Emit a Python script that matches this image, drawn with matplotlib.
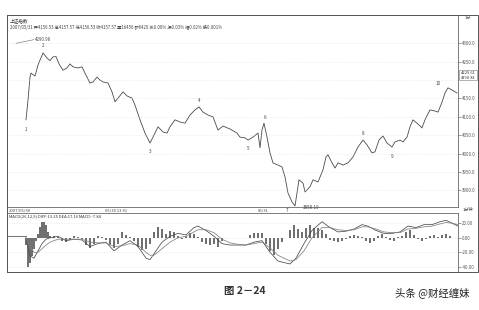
import matplotlib.pyplot as plt
from matplotlib.patches import Rectangle

plt.rcParams['font.family'] = ['Noto Sans CJK SC', 'DejaVu Sans']

minutes = [0, 2, 4, 5, 9, 12, 17, 21, 24, 27, 30, 33, 37, 41, 44, 47, 52, 56, 59, 64, 67, 71, 74,
           77, 82, 86, 89, 92, 97, 101, 106, 109, 114, 119, 124, 127, 132, 137, 141, 144, 149,
           154, 159, 164, 169, 173, 177, 182, 187, 192, 197, 204, 211, 214, 219, 222, 227, 232,
           234, 236, 238, 241, 244, 247, 252, 256, 259, 262, 266, 269, 271, 273, 277, 279, 284,
           287, 292, 297, 300, 302, 306, 309, 312, 317, 322, 327, 332, 337, 341, 346, 349, 353,
           357, 361, 366, 369, 374, 377, 381, 384, 387, 391, 396, 399, 404, 409, 412, 416, 419,
           422, 426, 431]
close = [4092, 4146, 4208, 4219, 4211, 4241, 4274, 4260, 4253, 4263, 4264, 4244, 4227, 4233,
         4244, 4236, 4233, 4236, 4219, 4192, 4195, 4208, 4200, 4195, 4192, 4168, 4141, 4151,
         4168, 4157, 4151, 4132, 4092, 4056, 4029, 4045, 4073, 4059, 4056, 4073, 4092, 4086,
         4083, 4105, 4119, 4127, 4113, 4105, 4100, 4064, 4075, 4067, 4056, 4045, 4043, 4037,
         4045, 4056, 4016, 4064, 4083, 4045, 4002, 3975, 3969, 3964, 3937, 3893, 3869, 3858,
         3893, 3929, 3920, 3896, 3910, 3929, 3923, 3956, 3991, 3997, 3975, 3961, 3975, 3969,
         3975, 3991, 4018, 4037, 4024, 4002, 4005, 4037, 4048, 4029, 4018, 4032, 4037, 4032,
         4045, 4073, 4092, 4083, 4070, 4092, 4119, 4116, 4113, 4140, 4165, 4179, 4173, 4165]

# wave labels: text, index in the series, offset in points
wave_labels = ['1', '2', '3', '4', '5', '6', '7', '8', '9', '10']
wave_index = [0, 6, 34, 45, 55, 60, 69, 87, 94, 109]
wave_dy = [-7, 5, -6, 5, -6, 4, -3, 5, -7, 3]
wave_dx = [0, 0, 0, 0, 0, 1, -6, 0, 0, -7]

# MACD panel
hist_min = list(range(0, 24, 2)) + list(range(24, 428, 4))
hist = [-10, -40, -35, -25, -15, -5, 5, 15, 21, 22, 18, 8, 3, 2, 1, -5, -6, -3, 2, 1, -2, -10,
        -14, -8, 2, 1, -3, -10, -14, -8, 8, 4, 1, -5, -12, -17, -15, -8, 8, 15, 12, 5, 9, 8, 3,
        -2, 3, 6, 5, 1, -6, -8, -10, -9, -12, -4, -1, 0, 0, 0, 0, 0, 4, 7, 6, 6, -8, -18, -24,
        -15, -6, 0, 10, 18, 12, 8, 14, 18, 13, 14, 10, 5, -3, -5, -6, -4, -2, 3, 4, 2, 1, -4,
        -7, -5, 3, 5, 1, -3, -5, 1, 2, 8, 10, 4, -2, -5, -2, 3, 4, 1, 4, 5, 2]
line_min = [0, 4, 8, 12, 16, 20, 24, 32, 40, 48, 56, 64, 72, 80, 88, 96, 104, 112, 120, 124,
            128, 136, 144, 152, 160, 168, 172, 180, 188, 196, 204, 212, 220, 228, 236, 244, 252,
            264, 270, 278, 286, 296, 304, 312, 320, 328, 336, 342, 350, 358, 366, 374, 382, 390,
            398, 406, 414, 420, 426, 432]
diff = [0, -25, -28, -18, -8, -2, 0, 2, -4, -2, -3, -12, -8, -6, -18, -10, -4, -12, -28, -30,
        -22, -6, 2, 6, 4, 14, 16, 10, 2, -8, -10, -10, -10, -6, -4, -20, -32, -36, -28, -8, 10,
        22, 14, 8, 9, 12, 18, 16, 10, 6, 6, 8, 16, 14, 18, 18, 22, 24, 20, 16]
dea = [0, -12, -20, -20, -15, -10, -6, -2, -2, -2, -2, -6, -7, -7, -12, -11, -8, -10, -20, -24,
       -24, -15, -6, 0, 2, 8, 11, 11, 7, -2, -7, -9, -10, -8, -6, -14, -24, -32, -30, -18, 0,
       14, 14, 11, 10, 11, 15, 15, 12, 8, 7, 7, 12, 13, 15, 16, 19, 21, 20, 18]

price_ticks = [3900, 3950, 4000, 4050, 4100, 4150, 4250, 4300]
macd_ticks = [20, 0, -20, -40]

W, H = 479, 310


def box(l, t, r, b):
    return [l / W, 1 - b / H, (r - l) / W, (b - t) / H]


fig = plt.figure(figsize=(W / 100, H / 100), dpi=100)
fig.patch.set_facecolor('white')

ink = '#4a4a4a'
small = 3.2

# main price panel
ax = fig.add_axes(box(7, 15, 458, 207))
ax.plot(minutes, close, color=ink, lw=0.6)
ax.set_xlim(-19, 432)
ax.set_ylim(3855, 4377)
ax.set_xticks([])
ax.yaxis.tick_right()
ax.set_yticks(price_ticks)
ax.set_yticklabels([f'{v:.1f}' for v in price_ticks])
ax.tick_params(axis='y', labelsize=small, length=2, pad=1, colors='#555', width=0.4)
for v in price_ticks + [4200]:
    ax.axhline(v, color='#d5d5d5', lw=0.4, ls=(0, (1, 2)))
for s in ax.spines.values():
    s.set_color('#666')
    s.set_linewidth(0.6)

for txt, i, dx, dy in zip(wave_labels, wave_index, wave_dx, wave_dy):
    ax.annotate(txt, (minutes[i], close[i]), xytext=(dx, dy), textcoords='offset points',
                ha='center', va='center', fontsize=3.3, color='#444')
low_i = close.index(min(close))
ax.annotate('3858.19', (minutes[low_i], close[low_i]), xytext=(6, -1),
            textcoords='offset points', ha='left', va='center', fontsize=3.3, color='#444',
            arrowprops=dict(arrowstyle='-', color='#777', lw=0.4))

ax.text(0.006, 0.985, '上证指数', transform=ax.transAxes, fontsize=3.3, va='top', color='#333')
ax.text(0.006, 0.95, '2007/05/31 开4156.53 高4157.57 低4156.53 收4157.57 量16456 额6429 '
        '涨0.00% 振0.03% 幅0.02% 换0.001%', transform=ax.transAxes, fontsize=3.1,
        va='top', color='#444')
ax.plot([-10, 8], [4300, 4310], color='#666', lw=0.4)
ax.text(9, 4310, '4290.98', fontsize=3.1, va='center', color='#444')

# current value box on the price scale
fig.patches.append(Rectangle((459 / W, 1 - 80 / H), 18 / W, 10 / H, transform=fig.transFigure,
                             fill=False, ec='#777', lw=0.4))
fig.text(468 / W, 1 - 73 / H, '4229.61', fontsize=3, ha='center', va='center', color='#333')
fig.text(468 / W, 1 - 78 / H, '4190.81', fontsize=3, ha='center', va='center', color='#333')
fig.text(468 / W, 1 - 18 / H, '1分', fontsize=3, ha='center', va='center', color='#555')

# date strip
fig.text(9 / W, 1 - 210 / H, '2007/05/30', fontsize=3, va='center', color='#444')
fig.text(105 / W, 1 - 210 / H, '05/30 13:51', fontsize=3, va='center', color='#444')
fig.text(258 / W, 1 - 210 / H, '05/31', fontsize=3, va='center', color='#444')
fig.text(468 / W, 1 - 210 / H, '1分钟', fontsize=3, ha='center', va='center', color='#444')

# MACD panel
ax2 = fig.add_axes(box(7, 213, 458, 272))
ax2.bar(hist_min, hist, width=2.2, color='#707070', lw=0)
ax2.plot(line_min, diff, color=ink, lw=0.55)
ax2.plot(line_min, dea, color='#808080', lw=0.55)
ax2.plot([-19, 0], [3, 3], color=ink, lw=0.55)
ax2.set_xlim(-19, 432)
ax2.set_ylim(-47, 34)
ax2.set_xticks([])
ax2.yaxis.tick_right()
ax2.set_yticks(macd_ticks)
ax2.set_yticklabels([f'{v:.2f}' for v in macd_ticks])
ax2.tick_params(axis='y', labelsize=small, length=2, pad=1, colors='#555', width=0.4)
for v in macd_ticks:
    ax2.axhline(v, color='#d5d5d5', lw=0.4, ls=(0, (1, 2)), zorder=0)
for s in ax2.spines.values():
    s.set_color('#666')
    s.set_linewidth(0.6)
ax2.text(0.004, 0.97, 'MACD(26,12,9) DIFF:13.25 DEA:17.16 MACD:-7.84', transform=ax2.transAxes,
         fontsize=3, va='top', color='#333')

# outer frame
fig.patches.append(Rectangle((7 / W, 1 - 272 / H), 471 / W, 257 / H, transform=fig.transFigure,
                             fill=False, ec='#555', lw=0.7))

fig.text(245 / W, 1 - 291 / H, '图 2－24', fontsize=7.5, ha='center', va='center',
         color='#333', fontweight='bold')
fig.text(432 / W, 1 - 293 / H, '头条 @财经缠妹', fontsize=7.5, ha='center', va='center',
         color='#222')

fig.savefig('out.png', dpi=100, facecolor='white')
